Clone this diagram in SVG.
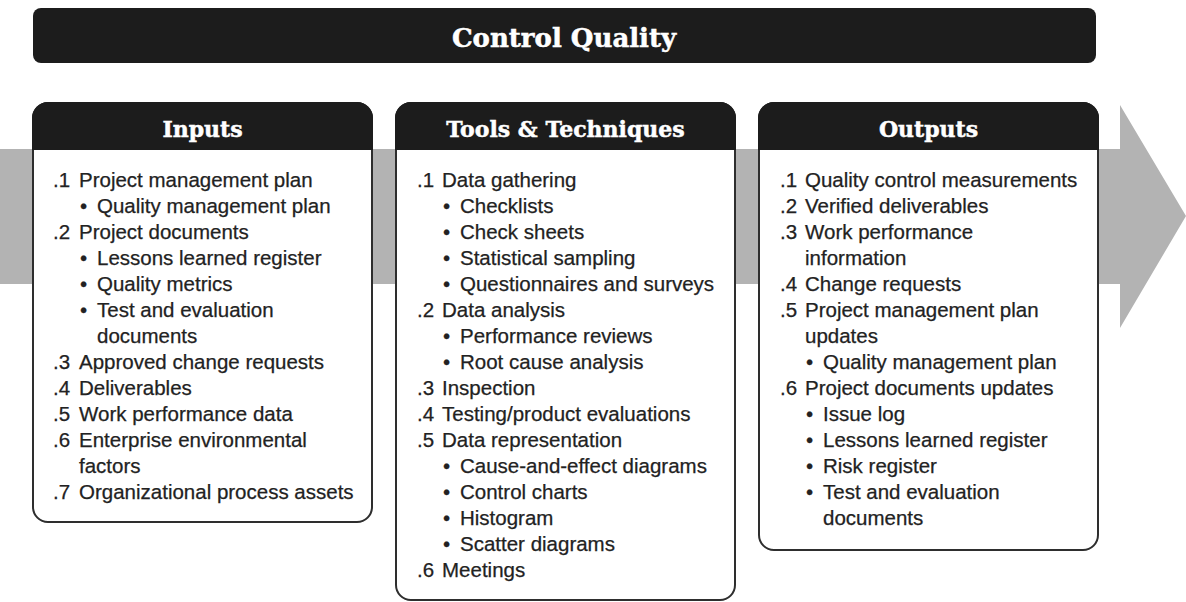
<svg xmlns="http://www.w3.org/2000/svg" width="1186" height="602" viewBox="0 0 1186 602">
<style>
.hdr{fill:#1c1c1c}
.body{fill:#ffffff;stroke:#2e2e2e;stroke-width:2}
.ht{font-family:"DejaVu Serif",serif;font-weight:bold;fill:#ffffff;stroke:#ffffff;stroke-width:0.5;text-anchor:middle}
.t{font-family:"Liberation Sans",Arial,sans-serif;font-size:20.5px;fill:#222222;stroke:#222222;stroke-width:0.25}
</style>
<rect width="1186" height="602" fill="#ffffff"/>
<g id="flow-arrow">
<polygon points="0,149 1120,149 1120,105 1186,216 1120,328 1120,284 0,284" fill="#b3b3b3"/>
</g>
<g id="title">
<rect x="33" y="8" width="1063" height="55" rx="8" class="hdr"/>
<text x="564" y="47" class="ht" font-size="26">Control Quality</text>
</g>
<g id="inputs">
<path class="body" d="M33,118 a15,15 0 0 1 15,-15 h309 a15,15 0 0 1 15,15 v389 a15,15 0 0 1 -15,15 h-309 a15,15 0 0 1 -15,-15 z"/>
<path class="hdr" d="M32,150 v-32 a16,16 0 0 1 16,-16 h309 a16,16 0 0 1 16,16 v32 z"/>
<text x="202.5" y="137" class="ht" font-size="22">Inputs</text>
<g class="t">
<text x="53" y="187">.1</text><text x="79" y="187">Project management plan</text>
<text x="80" y="213">•</text><text x="97" y="213">Quality management plan</text>
<text x="53" y="239">.2</text><text x="79" y="239">Project documents</text>
<text x="80" y="265">•</text><text x="97" y="265">Lessons learned register</text>
<text x="80" y="291">•</text><text x="97" y="291">Quality metrics</text>
<text x="80" y="317">•</text><text x="97" y="317">Test and evaluation</text>
<text x="97" y="343">documents</text>
<text x="53" y="369">.3</text><text x="79" y="369">Approved change requests</text>
<text x="53" y="395">.4</text><text x="79" y="395">Deliverables</text>
<text x="53" y="421">.5</text><text x="79" y="421">Work performance data</text>
<text x="53" y="447">.6</text><text x="79" y="447">Enterprise environmental</text>
<text x="79" y="473">factors</text>
<text x="53" y="499">.7</text><text x="79" y="499">Organizational process assets</text>
</g>
</g>
<g id="tools">
<path class="body" d="M396,118 a15,15 0 0 1 15,-15 h309 a15,15 0 0 1 15,15 v467 a15,15 0 0 1 -15,15 h-309 a15,15 0 0 1 -15,-15 z"/>
<path class="hdr" d="M395,150 v-32 a16,16 0 0 1 16,-16 h309 a16,16 0 0 1 16,16 v32 z"/>
<text x="565.5" y="137" class="ht" font-size="22">Tools &amp; Techniques</text>
<g class="t">
<text x="417" y="187">.1</text><text x="442" y="187">Data gathering</text>
<text x="443" y="213">•</text><text x="460" y="213">Checklists</text>
<text x="443" y="239">•</text><text x="460" y="239">Check sheets</text>
<text x="443" y="265">•</text><text x="460" y="265">Statistical sampling</text>
<text x="443" y="291">•</text><text x="460" y="291">Questionnaires and surveys</text>
<text x="417" y="317">.2</text><text x="442" y="317">Data analysis</text>
<text x="443" y="343">•</text><text x="460" y="343">Performance reviews</text>
<text x="443" y="369">•</text><text x="460" y="369">Root cause analysis</text>
<text x="417" y="395">.3</text><text x="442" y="395">Inspection</text>
<text x="417" y="421">.4</text><text x="442" y="421">Testing/product evaluations</text>
<text x="417" y="447">.5</text><text x="442" y="447">Data representation</text>
<text x="443" y="473">•</text><text x="460" y="473">Cause-and-effect diagrams</text>
<text x="443" y="499">•</text><text x="460" y="499">Control charts</text>
<text x="443" y="525">•</text><text x="460" y="525">Histogram</text>
<text x="443" y="551">•</text><text x="460" y="551">Scatter diagrams</text>
<text x="417" y="577">.6</text><text x="442" y="577">Meetings</text>
</g>
</g>
<g id="outputs">
<path class="body" d="M759,118 a15,15 0 0 1 15,-15 h309 a15,15 0 0 1 15,15 v417 a15,15 0 0 1 -15,15 h-309 a15,15 0 0 1 -15,-15 z"/>
<path class="hdr" d="M758,150 v-32 a16,16 0 0 1 16,-16 h309 a16,16 0 0 1 16,16 v32 z"/>
<text x="928.5" y="137" class="ht" font-size="22">Outputs</text>
<g class="t">
<text x="780" y="187">.1</text><text x="805" y="187">Quality control measurements</text>
<text x="780" y="213">.2</text><text x="805" y="213">Verified deliverables</text>
<text x="780" y="239">.3</text><text x="805" y="239">Work performance</text>
<text x="805" y="265">information</text>
<text x="780" y="291">.4</text><text x="805" y="291">Change requests</text>
<text x="780" y="317">.5</text><text x="805" y="317">Project management plan</text>
<text x="805" y="343">updates</text>
<text x="806" y="369">•</text><text x="823" y="369">Quality management plan</text>
<text x="780" y="395">.6</text><text x="805" y="395">Project documents updates</text>
<text x="806" y="421">•</text><text x="823" y="421">Issue log</text>
<text x="806" y="447">•</text><text x="823" y="447">Lessons learned register</text>
<text x="806" y="473">•</text><text x="823" y="473">Risk register</text>
<text x="806" y="499">•</text><text x="823" y="499">Test and evaluation</text>
<text x="823" y="525">documents</text>
</g>
</g>
<g id="connectors"/>
</svg>
